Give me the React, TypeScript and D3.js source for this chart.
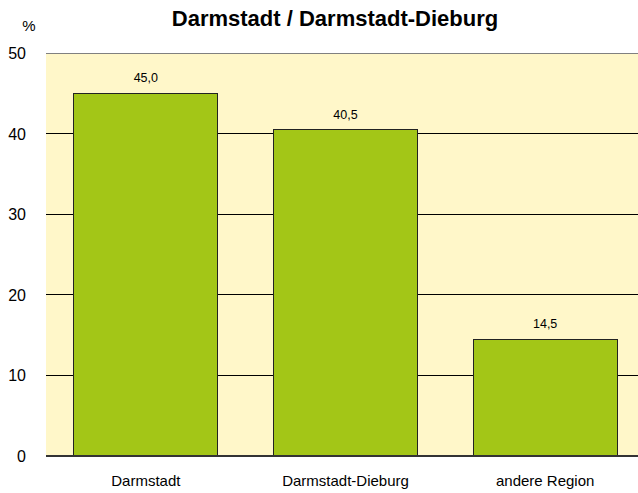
import React from 'react';
import * as d3 from 'd3';

const categories = ['Darmstadt', 'Darmstadt-Dieburg', 'andere Region'];
const values = [45.0, 40.5, 14.5];
const yTicks = [0, 10, 20, 30, 40, 50];

const W = 638;
const H = 493;
const plot = { left: 46, right: 645, top: 53, bottom: 456 };

const App = () => {
  const x = d3.scaleBand().domain(categories).range([plot.left, plot.right]).paddingInner(0.28).paddingOuter(0.14);
  const y = d3.scaleLinear().domain([0, 50]).range([plot.bottom, plot.top]);
  const fmt = (v: number) => v.toFixed(1).replace('.', ',');

  return (
    <svg width={W} height={H} style={{ position: 'absolute', left: 0, top: 0, fontFamily: 'Arial, "Liberation Sans", sans-serif' }}>
      <rect x={0} y={0} width={W} height={H} fill="#fff" />
      <rect x={plot.left} y={plot.top} width={plot.right - plot.left} height={plot.bottom - plot.top} fill="#FFF7C9" />
      {yTicks.filter(t => t > 0 && t < 50).map(t => (
        <line key={t} x1={plot.left} x2={plot.right} y1={y(t)} y2={y(t)} stroke="#000" strokeWidth={1} shapeRendering="crispEdges" />
      ))}
      <line x1={plot.left} x2={plot.right} y1={y(50)} y2={y(50)} stroke="#808080" strokeWidth={1} shapeRendering="crispEdges" />
      {categories.map((c, i) => (
        <g key={c}>
          <rect x={x(c)} y={y(values[i])} width={x.bandwidth()} height={y(0) - y(values[i])} fill="#A3C617" stroke="#222" strokeWidth={1} shapeRendering="crispEdges" />
          <text x={(x(c) as number) + x.bandwidth() / 2} y={y(values[i]) - 11} textAnchor="middle" fontSize={12.5} fill="#000">{fmt(values[i])}</text>
          <text x={(x(c) as number) + x.bandwidth() / 2} y={486} textAnchor="middle" fontSize={15} fill="#000">{c}</text>
        </g>
      ))}
      <line x1={plot.left} x2={plot.right} y1={y(0)} y2={y(0)} stroke="#333" strokeWidth={1.5} shapeRendering="crispEdges" />
      {yTicks.map(t => (
        <text key={t} x={26} y={y(t) + 6} textAnchor="end" fontSize={16} fill="#000">{t}</text>
      ))}
      <text x={29} y={31} textAnchor="middle" fontSize={15} fill="#000">%</text>
      <text x={335} y={26} textAnchor="middle" fontSize={22} fontWeight="bold" fill="#000">Darmstadt / Darmstadt-Dieburg</text>
    </svg>
  );
};

export default App;
